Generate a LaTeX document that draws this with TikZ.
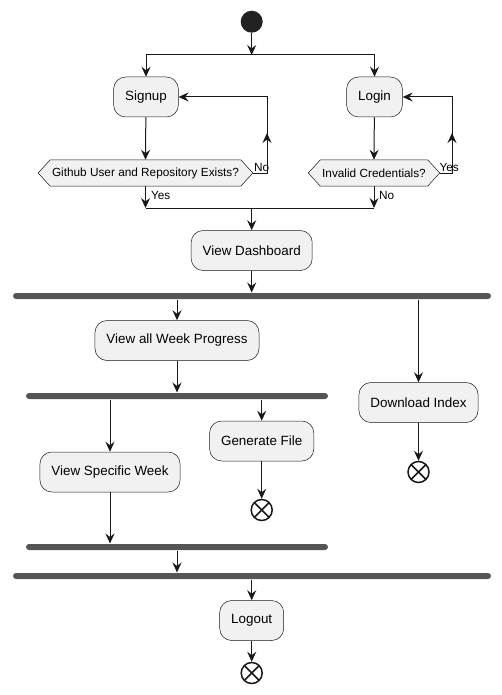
\documentclass[tikz,border=0pt]{standalone}
\usepackage{fontspec}
\setmainfont{Liberation Sans}
\usetikzlibrary{arrows.meta,
	shapes.symbols,
	positioning
}
\definecolor{boxfill}{HTML}{F1F1F1}
\definecolor{edgecol}{HTML}{181818}
\definecolor{barcol}{HTML}{555555}
\definecolor{startcol}{HTML}{222222}
\tikzset{
	action/.style={rectangle, rounded corners=12pt, draw=edgecol, line width=0.5pt, fill=boxfill, minimum height=40pt, inner xsep=11.5pt, text=black, font=\fontsize{13.4}{15}\selectfont},
	choice/.style={signal, signal to=west and east, signal pointer angle=95, draw=edgecol, line width=0.5pt, fill=boxfill, minimum height=26pt, inner xsep=2pt, inner ysep=0pt, text=black, font=\fontsize{11.8}{13}\selectfont},
	bar/.style={rectangle, rounded corners=3pt, fill=barcol, minimum height=6pt, inner sep=0pt},
	startnode/.style={circle, fill=startcol, minimum size=22pt, inner sep=0pt},
	stopnode/.style={circle, draw=edgecol, line width=1.5pt, fill=white, minimum size=21pt, inner sep=0pt,
		path picture={\draw[-, edgecol, line width=1.5pt] (path picture bounding box.north west) -- (path picture bounding box.south east) (path picture bounding box.north east) -- (path picture bounding box.south west);}},
	guard/.style={anchor=west, inner sep=0pt, text=black, font=\fontsize{11.8}{13}\selectfont},
}

\begin{document}
\begin{tikzpicture}[x=1pt, y=-1pt, ->, >={Stealth[length=10pt,width=9pt,inset=3.5pt]}, color=edgecol, line width=1pt]
\useasboundingbox (0,0) rectangle (502,695);

% graph

\node[startnode] (start) at (251.7,21.7) {};
\coordinate (split) at (251.7,55);
\coordinate (merge) at (251.7,208);

\node[action] (signup) at (146,97) {Signup};
\node[action] (login) at (374.5,97) {Login};

\node[choice] (ghub) at (145.5,173) {Github User and Repository Exists?};
\node[choice] (cred) at (374,173) {Invalid Credentials?};

\node[action] (dash) at (251.7,250.5) {View Dashboard};

\node[bar, minimum width=478pt] (bar1) at (252,296) {};
\node[action] (weeks) at (177,340.5) {View all Week Progress};
\node[action] (dl) at (418.5,402.5) {Download Index};

\node[bar, minimum width=302pt] (bar2) at (177,396) {};
\node[action] (gen) at (261.7,441) {Generate File};
\node[action] (spec) at (110,472) {View Specific Week};

\node[stopnode] (dlstop) at (418.5,472) {};
\node[stopnode] (genstop) at (261.7,510) {};

\node[bar, minimum width=302pt] (bar3) at (177,547) {};
\node[bar, minimum width=478pt] (bar4) at (252,576) {};

\node[action] (logout) at (251.7,620.5) {Logout};
\node[stopnode] (endstop) at (251.7,673) {};

% guards

\coordinate (noturn) at (267,173);
\coordinate (yesturn) at (452,173);

\node[guard] (nolbl) at (253.5,167) {No};
\node[guard] (yeslbl) at (439,167) {Yes};
\node[guard] (ghubyes) at (150.5,195) {Yes};
\node[guard] (credno) at (378.5,195) {No};

% connections

\draw (start) -- (split);
\draw[-] (signup |- split) -- (login |- split);
\draw (signup |- split) -- (signup.north);
\draw (login |- split) -- (login.north);

\draw (signup) -- (ghub.north);
\draw (login) -- (cred.north);

\draw (ghub.east) -- (noturn) |- (signup.east);
\draw (noturn) -- ++(0,-40);
\draw (cred.east) -- (yesturn) |- (login.east);
\draw (yesturn) -- ++(0,-40);

\draw (ghub.south) -- (ghub.south |- merge);
\draw (cred.south) -- (cred.south |- merge);
\draw[-] (ghub.south |- merge) -- (cred.south |- merge);
\draw (merge) -- (dash.north);

\draw (dash) -- (dash |- bar1.north);
\draw (weeks |- bar1.south) -- (weeks.north);
\draw (dl |- bar1.south) -- (dl.north);
\draw (dl) -- (dlstop);

\draw (weeks) -- (weeks |- bar2.north);
\draw (spec |- bar2.south) -- (spec.north);
\draw (gen |- bar2.south) -- (gen.north);
\draw (gen) -- (genstop);

\draw (spec) -- (spec |- bar3.north);
\draw (weeks |- bar3.south) -- (weeks |- bar4.north);
\draw (logout |- bar4.south) -- (logout.north);
\draw (logout) -- (endstop);

\end{tikzpicture}
\end{document}
